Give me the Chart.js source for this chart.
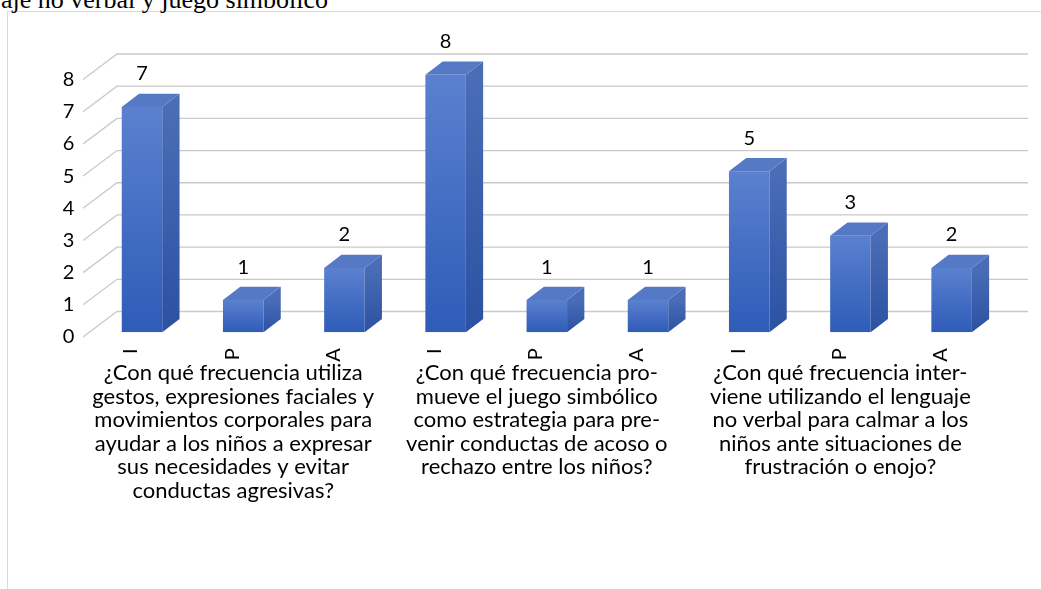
<!DOCTYPE html>
<html><head><meta charset="utf-8">
<script src="https://cdn.jsdelivr.net/npm/chart.js@4.4.0/dist/chart.umd.min.js"></script>
<style>
html,body{margin:0;padding:0;background:#fff;overflow:hidden;width:1041px;height:589px;}
#frame{position:absolute;left:7px;top:11px;width:1200px;height:800px;border:1px solid #d9d9d9;box-sizing:border-box;}
#title{position:absolute;left:1px;top:-13px;font-family:'Liberation Serif','Times New Roman',serif;font-size:26px;line-height:26px;color:#000;white-space:nowrap;}
#wrap{position:absolute;left:0;top:0;width:1041px;height:589px;}
</style></head><body>
<div id="frame"></div>
<div id="title">aje no verbal y juego simbólico</div>
<div id="wrap"><canvas id="c" width="1041" height="589"></canvas></div>
<script>
const categories = ['I','P','A','I','P','A','I','P','A'];
const groupLabels = [
  ['¿Con qué frecuencia utiliza','gestos, expresiones faciales y','movimientos corporales para','ayudar a los niños a expresar','sus necesidades y evitar','conductas agresivas?'],
  ['¿Con qué frecuencia pro-','mueve el juego simbólico','como estrategia para pre-','venir conductas de acoso o','rechazo entre los niños?'],
  ['¿Con qué frecuencia inter-','viene utilizando el lenguaje','no verbal para calmar a los','niños ante situaciones de','frustración o enojo?']
];
const values = [7,1,2,8,1,1,5,3,2];
const yTicks = [0,1,2,3,4,5,6,7,8];

const FONT = 'Lato';
const FS = 20;
const FG = 22;
const groupRow = categories.map((c,i)=> (i%3===1) ? groupLabels[Math.floor(i/3)] : '');

const threeD = {
  id:'threeD',
  beforeDatasetsDraw(chart){
    const {ctx, chartArea:a, scales:{y}} = chart;
    ctx.save();
    ctx.strokeStyle='#c9c9c9'; ctx.lineWidth=1.3;
    yTicks.forEach(v=>{
      const yp = y.getPixelForValue(v);
      ctx.beginPath();
      ctx.moveTo(a.left-8.4, yp+4.7);
      ctx.lineTo(a.left+25.6, yp-20.8);
      ctx.lineTo(a.right+25.8, yp-20.8);
      ctx.stroke();
    });
    ctx.restore();
  },
  afterDatasetsDraw(chart){
    const ctx = chart.ctx;
    const meta = chart.getDatasetMeta(0);
    const data = chart.data.datasets[0].data;
    const dx=17.3, dy=-13.3;
    ctx.save();
    meta.data.forEach((el,i)=>{
      const {x,y,base,width} = el.getProps(['x','y','base','width'], true);
      const l=x-width/2, r=x+width/2;
      let g = ctx.createLinearGradient(0,y,0,base);
      g.addColorStop(0,'#4b6db7'); g.addColorStop(1,'#2b51a1');
      ctx.fillStyle=g;
      ctx.beginPath(); ctx.moveTo(r,y); ctx.lineTo(r+dx,y+dy); ctx.lineTo(r+dx,base+dy); ctx.lineTo(r,base); ctx.closePath(); ctx.fill();
      ctx.fillStyle='#5679c6';
      ctx.beginPath(); ctx.moveTo(l,y); ctx.lineTo(l+dx,y+dy); ctx.lineTo(r+dx,y+dy); ctx.lineTo(r,y); ctx.closePath(); ctx.fill();
      ctx.fillStyle='#000'; ctx.font = FS+'px '+FONT; ctx.textAlign='center'; ctx.textBaseline='middle';
      ctx.fillText(String(data[i]), x, y-33);
    });
    ctx.restore();
  }
};

const H1 = 30, H2 = 200;
new Chart(document.getElementById('c'), {
  type:'bar',
  data:{ labels: categories, datasets:[{ data: values,
    backgroundColor:(c)=>{
      const ch=c.chart, ys=ch.scales.y;
      if(!ys || c.type!=='data') return '#4472c4';
      const top=ys.getPixelForValue(c.raw), base=ys.getPixelForValue(0);
      if(!isFinite(top)||!isFinite(base)||top===base) return '#4472c4';
      const g=ch.ctx.createLinearGradient(0,top,0,base);
      g.addColorStop(0,'#5b80cf'); g.addColorStop(1,'#2e5cb8');
      return g;
    },
    borderWidth:0, categoryPercentage:1, barPercentage:0.4 }]},
  options:{
    responsive:false, animation:false, devicePixelRatio:1,
    layout:{ padding:{ left:0, top:74.8, right:38.8, bottom:589-332.3-H1-H2 } },
    plugins:{ legend:{display:false}, tooltip:{enabled:false}, title:{display:false} },
    scales:{
      y:{ min:0, max:8, grid:{display:false, drawTicks:false}, border:{display:false},
          ticks:{ stepSize:1, color:'#000', font:{family:FONT,size:FS}, padding:17, labelOffset:4.7 },
          afterFit:(s)=>{ s.width=91.4; } },
      x:{ offset:true, grid:{display:false, drawTicks:false}, border:{display:false},
          ticks:{ autoSkip:false, minRotation:90, maxRotation:90, color:'#000', font:{family:FONT,size:FS}, padding:16, labelOffset:-11 },
          afterFit:(s)=>{ s.height=H1; } },
      x2:{ type:'category', labels: groupRow, position:'bottom', offset:true,
          grid:{display:false, drawTicks:false}, border:{display:false},
          ticks:{ autoSkip:false, minRotation:0, maxRotation:0, color:'#000', font:{family:FONT,size:FG, lineHeight:23.5/22}, padding:-1, labelOffset:-10 },
          afterFit:(s)=>{ s.height=H2; } }
    }
  },
  plugins:[threeD]
});
</script>
</body></html>
